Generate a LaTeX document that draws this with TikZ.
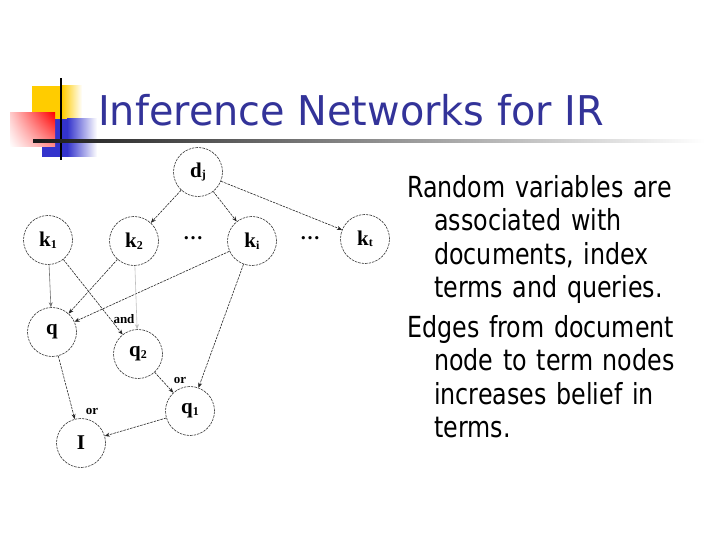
\documentclass[tikz,border=0pt]{standalone}
\usepackage{fontspec}
\newfontfamily\slidefont[FakeStretch=0.82]{DejaVu Sans}
\newfontfamily\headfont[FakeStretch=0.97]{DejaVu Sans}
\newfontfamily\netfont{Liberation Serif}
\usetikzlibrary{arrows.meta,positioning,shadings}

\definecolor{titleblue}{RGB}{51,51,153}
\definecolor{logoblue}{RGB}{51,51,204}
\definecolor{logoyellow}{RGB}{255,204,0}

% bold label with bold subscript
\newcommand\nlab[2]{\textbf{#1}\raisebox{-1.5pt}{\fontsize{12}{12}\selectfont\textbf{#2}}}

\begin{document}
\begin{tikzpicture}[x=1pt,y=-1pt,>={Stealth[length=5pt,width=4pt]},
    var/.style={circle,draw=black!80,line width=0.6pt,dash pattern=on 2.5pt off 1pt,
      minimum size=49pt,inner sep=0pt,font=\netfont\fontsize{21}{24}\selectfont\bfseries},
    link/.style={->,draw=black!85,line width=0.6pt,dash pattern=on 2.5pt off 1pt},
    gate/.style={inner sep=0pt,font=\netfont\fontsize{13}{15}\selectfont\bfseries},
    dots/.style={inner sep=0pt,font=\netfont\fontsize{20}{24}\selectfont\bfseries}]

    \useasboundingbox (0,0) rectangle (720,540);

    % logo
    \fill[logoyellow] (32,86) rectangle (62,120);
    \shade[left color=logoyellow,right color=white] (62,86) rectangle (82,120);
    \fill[logoblue] (42,119) rectangle (67,157);
    \shade[left color=logoblue,right color=white] (67,119) rectangle (97,157);
    \shade[upper right=red,upper left=red!20,lower right=red!45,lower left=white]
        (10,113) rectangle (55,147);
    \fill[black] (60,78) rectangle (62,160);
    \shade[left color=black!90,right color=white] (33,139.5) rectangle (705,142.5);

    % title
    \node[anchor=base west,inner sep=0pt,text=titleblue,
          font=\headfont\fontsize{41}{48}\selectfont] (title) at (98,126)
          {Inference Networks for IR};

    % network
    \node[var] (dj) at (198,172) {\nlab{d}{j}};
    \node[var] (k1) at (48,240)  {\nlab{k}{1}};
    \node[var] (k2) at (134,241) {\nlab{k}{2}};
    \node[dots] (dl) at (193,238) {\dots};
    \node[var] (ki) at (252,241) {\nlab{k}{i}};
    \node[dots] (dr) at (310,238) {\dots};
    \node[var] (kt) at (365,239) {\nlab{k}{t}};
    \node[var] (q)  at (52,332)  {q};
    \node[var] (q2) at (138,354) {\nlab{q}{2}};
    \node[var] (q1) at (190,411) {\nlab{q}{1}};
    \node[var] (I)  at (81,443)  {I};

    \node[gate] (and) at (124,319) {and};
    \node[gate] (or1) at (180,380) {or};
    \node[gate] (or2) at (92,411)  {or};

    \path[link] (dj) edge (k2)
                     edge (ki)
                     edge (kt)
                (k1) edge (q2)
                (k2) edge (q)
                (ki) edge (q)
                     edge (q1)
                (q)  edge (I)
                (q2) edge (q1)
                (q1) edge (I);
    \draw[->,black!55,line width=0.6pt] (k1) -- (q);
    \draw[->,black!25,line width=0.6pt] (k2) -- (q2);

    % bullet text
    \node[anchor=north west,inner sep=0pt,text width=305pt,
          font=\slidefont\fontsize{29}{33.5}\selectfont] (txt) at (407,175)
        {\setlength{\parskip}{6pt}%
         \hangindent=27pt\hangafter=1 Random variables are\newline
         associated with\newline documents, index\newline terms and queries.\par
         \hangindent=27pt\hangafter=1 Edges from document\newline
         node to term nodes\newline increases belief in\newline terms.\par};
\end{tikzpicture}
\end{document}
